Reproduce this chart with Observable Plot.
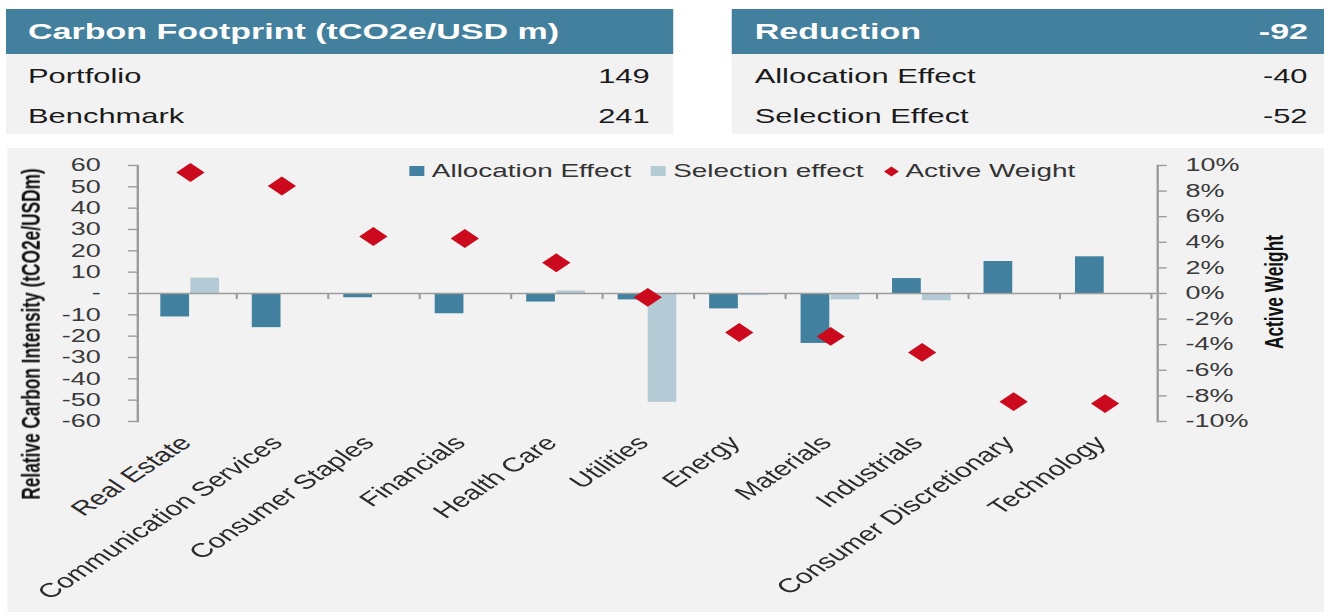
<!DOCTYPE html>
<html><head><meta charset="utf-8">
<script src="https://cdn.jsdelivr.net/npm/d3@7"></script>
<script src="https://cdn.jsdelivr.net/npm/@observablehq/plot@0.6"></script>
<style>
html,body{margin:0;padding:0;background:#fff;overflow:hidden;width:1330px;height:612px;}
#stage{position:relative;width:887px;height:612px;transform-origin:0 0;transform:scaleX(1.49944);font-family:"Liberation Sans",Arial,sans-serif;}
.tbl{position:absolute;top:9px;}
.tbl .hd{height:45px;background:#43809d;color:#fff;font-weight:bold;font-size:22.7px;display:flex;justify-content:space-between;align-items:center;box-sizing:border-box;}
.tbl .rows{background:#f2f2f2;height:80px;padding-top:2px;box-sizing:border-box;}
.tbl .row{height:40px;display:flex;justify-content:space-between;align-items:center;font-size:20.6px;color:#1a1a1a;box-sizing:border-box;}
#panel{position:absolute;left:5.3px;top:148px;width:877.7px;height:464px;background:#f2f2f2;}
#chart{position:absolute;left:0;top:148px;}
#legend{position:absolute;left:273px;top:160px;display:flex;align-items:center;font-size:18.6px;line-height:22px;color:#333;white-space:nowrap;}
#legend .item{display:flex;align-items:center;margin-right:13px;}
#legend .sw{width:10px;height:10px;margin-right:5px;}
#legend .dm{width:7px;height:7px;margin:0 6px 0 2px;transform:rotate(45deg);}
.ytitle{position:absolute;transform:translate(-50%,-50%) rotate(-90deg);font-weight:bold;font-size:17.3px;color:#111;white-space:nowrap;}
</style></head>
<body>
<div id="stage">
  <div id="panel"></div>
  <div id="chart"></div>
</div>
<script>
// ---- data ----
const footprintTitle = "Carbon Footprint (tCO2e/USD m)";
const footprintLabels = ["Portfolio", "Benchmark"];
const footprintValues = [149, 241];
const reductionTitle = "Reduction";
const reductionTotal = -92;
const reductionLabels = ["Allocation Effect", "Selection Effect"];
const reductionValues = [-40, -52];

const categories = ["Real Estate", "Communication Services", "Consumer Staples", "Financials", "Health Care", "Utilities", "Energy", "Materials", "Industrials", "Consumer Discretionary", "Technology"];
const allocation = [-11, -16, -2, -9.5, -4, -3, -7.2, -23.4, 7, 15, 17.2];
const selection = [7.2, 0, 0, 0, 1.2, -51, -1, -3, -3.4, 0, 0];
const activeWeight = [9.45, 8.4, 4.45, 4.3, 2.4, -0.3, -3.05, -3.35, -4.6, -8.45, -8.6];

const seriesNames = ["Allocation Effect", "Selection effect", "Active Weight"];
const leftTicks = [60, 50, 40, 30, 20, 10, 0, -10, -20, -30, -40, -50, -60];
const rightTicks = [10, 8, 6, 4, 2, 0, -2, -4, -6, -8, -10];
const leftTitle = "Relative Carbon Intensity (tCO2e/USDm)";
const rightTitle = "Active Weight";

// ---- styles ----
const colAlloc = "#41809e";
const colSel = "#b4cbd6";
const colRed = "#cc0a1e";
const axisGrey = "#9c9c9c";

const stage = document.getElementById("stage");

function makeTable(left, width, title, total, labels, values, padL, padR, padRHead) {
  const t = document.createElement("div");
  t.className = "tbl";
  t.style.left = left + "px";
  t.style.width = width + "px";
  const hd = document.createElement("div");
  hd.className = "hd";
  hd.style.padding = `0 ${padRHead}px 0 ${padL}px`;
  const a = document.createElement("span"); a.textContent = title; hd.appendChild(a);
  const b = document.createElement("span"); b.textContent = total == null ? "" : String(total); hd.appendChild(b);
  t.appendChild(hd);
  const rows = document.createElement("div");
  rows.className = "rows";
  labels.forEach((l, i) => {
    const r = document.createElement("div");
    r.className = "row";
    r.style.padding = `0 ${padR}px 0 ${padL}px`;
    const x = document.createElement("span"); x.textContent = l; r.appendChild(x);
    const y = document.createElement("span"); y.textContent = String(values[i]); r.appendChild(y);
    rows.appendChild(r);
  });
  t.appendChild(rows);
  stage.appendChild(t);
}
makeTable(4, 445.3, footprintTitle, null, footprintLabels, footprintValues, 14.7, 16, 16);
makeTable(488, 395, reductionTitle, reductionTotal, reductionLabels, reductionValues, 15.3, 11, 10.7);

// legend
const lg = document.createElement("div");
lg.id = "legend";
const legendColors = [colAlloc, colSel, colRed];
seriesNames.forEach((n, i) => {
  const it = document.createElement("div"); it.className = "item";
  const m = document.createElement("div");
  m.className = i === 2 ? "dm" : "sw";
  m.style.background = legendColors[i];
  it.appendChild(m);
  const s = document.createElement("span"); s.textContent = n; it.appendChild(s);
  lg.appendChild(it);
});
stage.appendChild(lg);

// axis titles
function addTitle(text, cx, cy) {
  const d = document.createElement("div");
  d.className = "ytitle";
  d.textContent = text;
  d.style.left = cx + "px";
  d.style.top = cy + "px";
  stage.appendChild(d);
}
addTitle(leftTitle, 21.3, 334);
addTitle(rightTitle, 850, 292);

// ---- chart ----
const W = 887, H = 464, mL = 91.4, mR = 115.4, mT = 17, mB = 191;
const bw = (W - mL - mR) / categories.length;
const barW = 20;
const outer = (bw - 2 * barW) / 2;
const yDomain = [-60, 60];
const awToY = 6; // 10% on the right axis lines up with 60 on the left axis
const rows = categories.map((c, i) => ({cat: c, alloc: allocation[i], sel: selection[i], aw: activeWeight[i]}));

const plot = Plot.plot({
  width: W, height: H,
  marginLeft: mL, marginRight: mR, marginTop: mT, marginBottom: mB,
  style: {background: "transparent", fontFamily: "'Liberation Sans', Arial, sans-serif", fontSize: "18px", color: "#3a3a3a", overflow: "visible"},
  x: {domain: categories, padding: 0},
  y: {domain: yDomain},
  marks: [
    Plot.barY(rows, {x: "cat", y: "alloc", fill: colAlloc, insetLeft: outer, insetRight: outer + barW}),
    Plot.barY(rows, {x: "cat", y: "sel", fill: colSel, insetLeft: outer + barW, insetRight: outer}),
    Plot.ruleY([0], {stroke: axisGrey, strokeWidth: 1.5}),
    Plot.ruleX(categories, {x: d => d, dx: bw / 2, y1: () => 0, y2: () => -2.8, stroke: axisGrey, strokeWidth: 1.4}),
    Plot.frame({anchor: "left", stroke: axisGrey, strokeWidth: 1.6}),
    Plot.frame({anchor: "right", stroke: axisGrey, strokeWidth: 1.6}),
    Plot.axisY({anchor: "left", ticks: leftTicks, tickFormat: d => d === 0 ? "-" : String(d), tickSize: 6, tickPadding: 18.7, stroke: axisGrey, strokeWidth: 1.4, fill: "#3a3a3a", label: null}),
    Plot.axisY({anchor: "right", ticks: rightTicks.map(v => v * awToY), tickFormat: v => `${Math.round(v / awToY)}%`, tickSize: 5.5, tickPadding: 13, stroke: axisGrey, strokeWidth: 1.4, fill: "#3a3a3a", label: null}),
    Plot.axisX({anchor: "bottom", tickSize: 0, tickPadding: 18, tickRotate: -45, dx: -3, fontSize: 20, fill: "#2a2a2a", label: null}),
    Plot.dot(rows, {x: "cat", y: d => d.aw * awToY, symbol: "diamond2", r: 8.5, fill: colRed, stroke: "none"})
  ]
});
document.getElementById("chart").appendChild(plot);
</script>
</body></html>
